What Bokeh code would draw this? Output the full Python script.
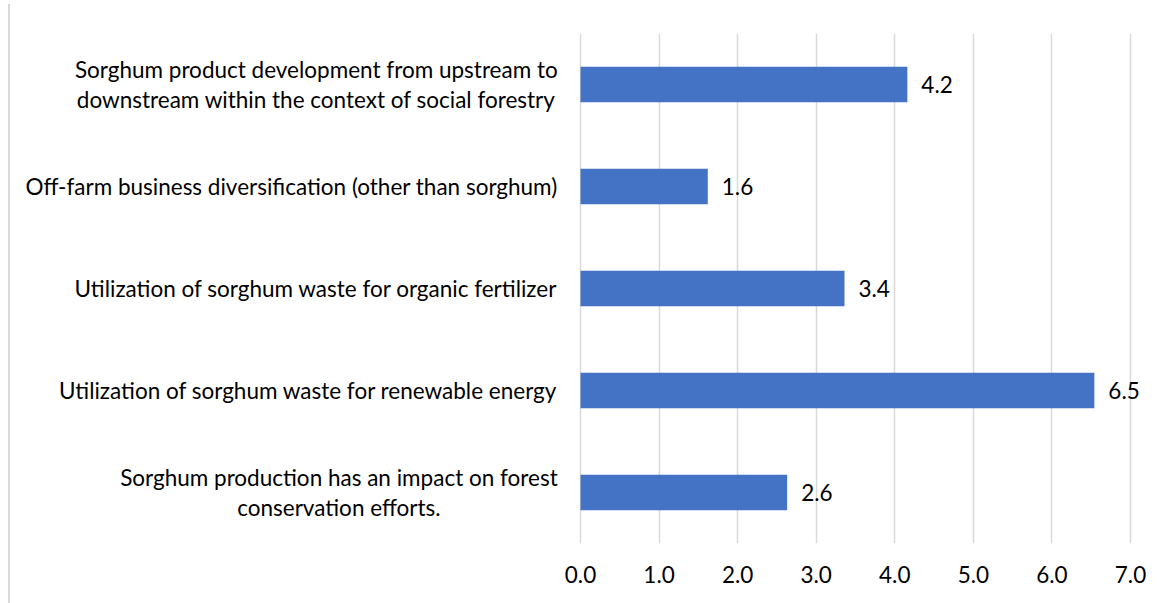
from bokeh.plotting import figure
from bokeh.models import ColumnDataSource, FactorRange, Range1d, FixedTicker, PrintfTickFormatter
from bokeh.core.properties import value
from bokeh.embed import file_html
from bokeh.resources import INLINE

# ---- data (top to bottom as in the chart) ----
categories = [
    "Sorghum product development from upstream to\ndownstream within the context of social forestry",
    "Off-farm business diversification (other than sorghum)",
    "Utilization of sorghum waste for organic fertilizer",
    "Utilization of sorghum waste for renewable energy",
    "Sorghum production has an impact on forest\nconservation efforts.",
]
values = [4.16, 1.62, 3.36, 6.54, 2.63]
x_ticks = [0, 1, 2, 3, 4, 5, 6, 7]

value_labels = [f"{v:.1f}" for v in values]

FONT = "Lato"
FS = "22.5px"
BAR = "#4472C4"
GRID = "#d9d9d9"

W, H = 1160, 599
left_b, right_b, top_b, bot_b = 2, 8, 29, 60
px_per_unit = 78.57
zero_px = 570                      # canvas x of value 0
frame_w = W - left_b - right_b
x0 = -(zero_px - left_b) / px_per_unit
x1 = x0 + frame_w / px_per_unit

src = ColumnDataSource(dict(cat=categories, val=values, lab=value_labels,
                            lx=[-0.29] * len(categories)))

p = figure(width=W, height=H, output_backend="svg", toolbar_location=None,
           y_range=FactorRange(factors=categories[::-1]),
           x_range=Range1d(x0, x1), y_axis_location=None,
           min_border_left=left_b, min_border_right=right_b,
           min_border_top=top_b, min_border_bottom=bot_b)
p.outline_line_color = None
p.background_fill_color = "white"
p.border_fill_color = "white"

p.hbar(y="cat", right="val", left=0, height=0.35, source=src,
       fill_color=BAR, line_color=None)

# value labels
p.text(x="val", y="cat", text="lab", source=src, x_offset=14,
       text_align="left", text_baseline="middle",
       text_font=value(FONT), text_font_size=value(FS), text_color="#000000")

# category labels (right-anchored block, centred lines)
p.text(x="lx", y="cat", text="cat", source=src,
       anchor=value("center_right"), text_align="center", text_baseline="middle",
       text_line_height=1.1,
       text_font=value(FONT), text_font_size=value(FS), text_color="#000000")

ax = p.xaxis[0]
ax.ticker = FixedTicker(ticks=x_ticks)
ax.formatter = PrintfTickFormatter(format="%.1f")
ax.axis_line_color = None
ax.major_tick_line_color = None
ax.minor_tick_line_color = None
ax.major_tick_out = 0
ax.major_label_standoff = 22
ax.major_label_text_font = FONT
ax.major_label_text_font_size = FS
ax.major_label_text_color = "#000000"

p.xgrid.ticker = FixedTicker(ticks=x_ticks)
p.xgrid.grid_line_color = GRID
p.xgrid.grid_line_width = 1.5
p.ygrid.grid_line_color = None

p.styles = {"margin-left": "8px", "margin-top": "4px",
            "border-left": "2px solid #d9d9d9"}

open("out.html", "w").write(file_html(p, INLINE))
